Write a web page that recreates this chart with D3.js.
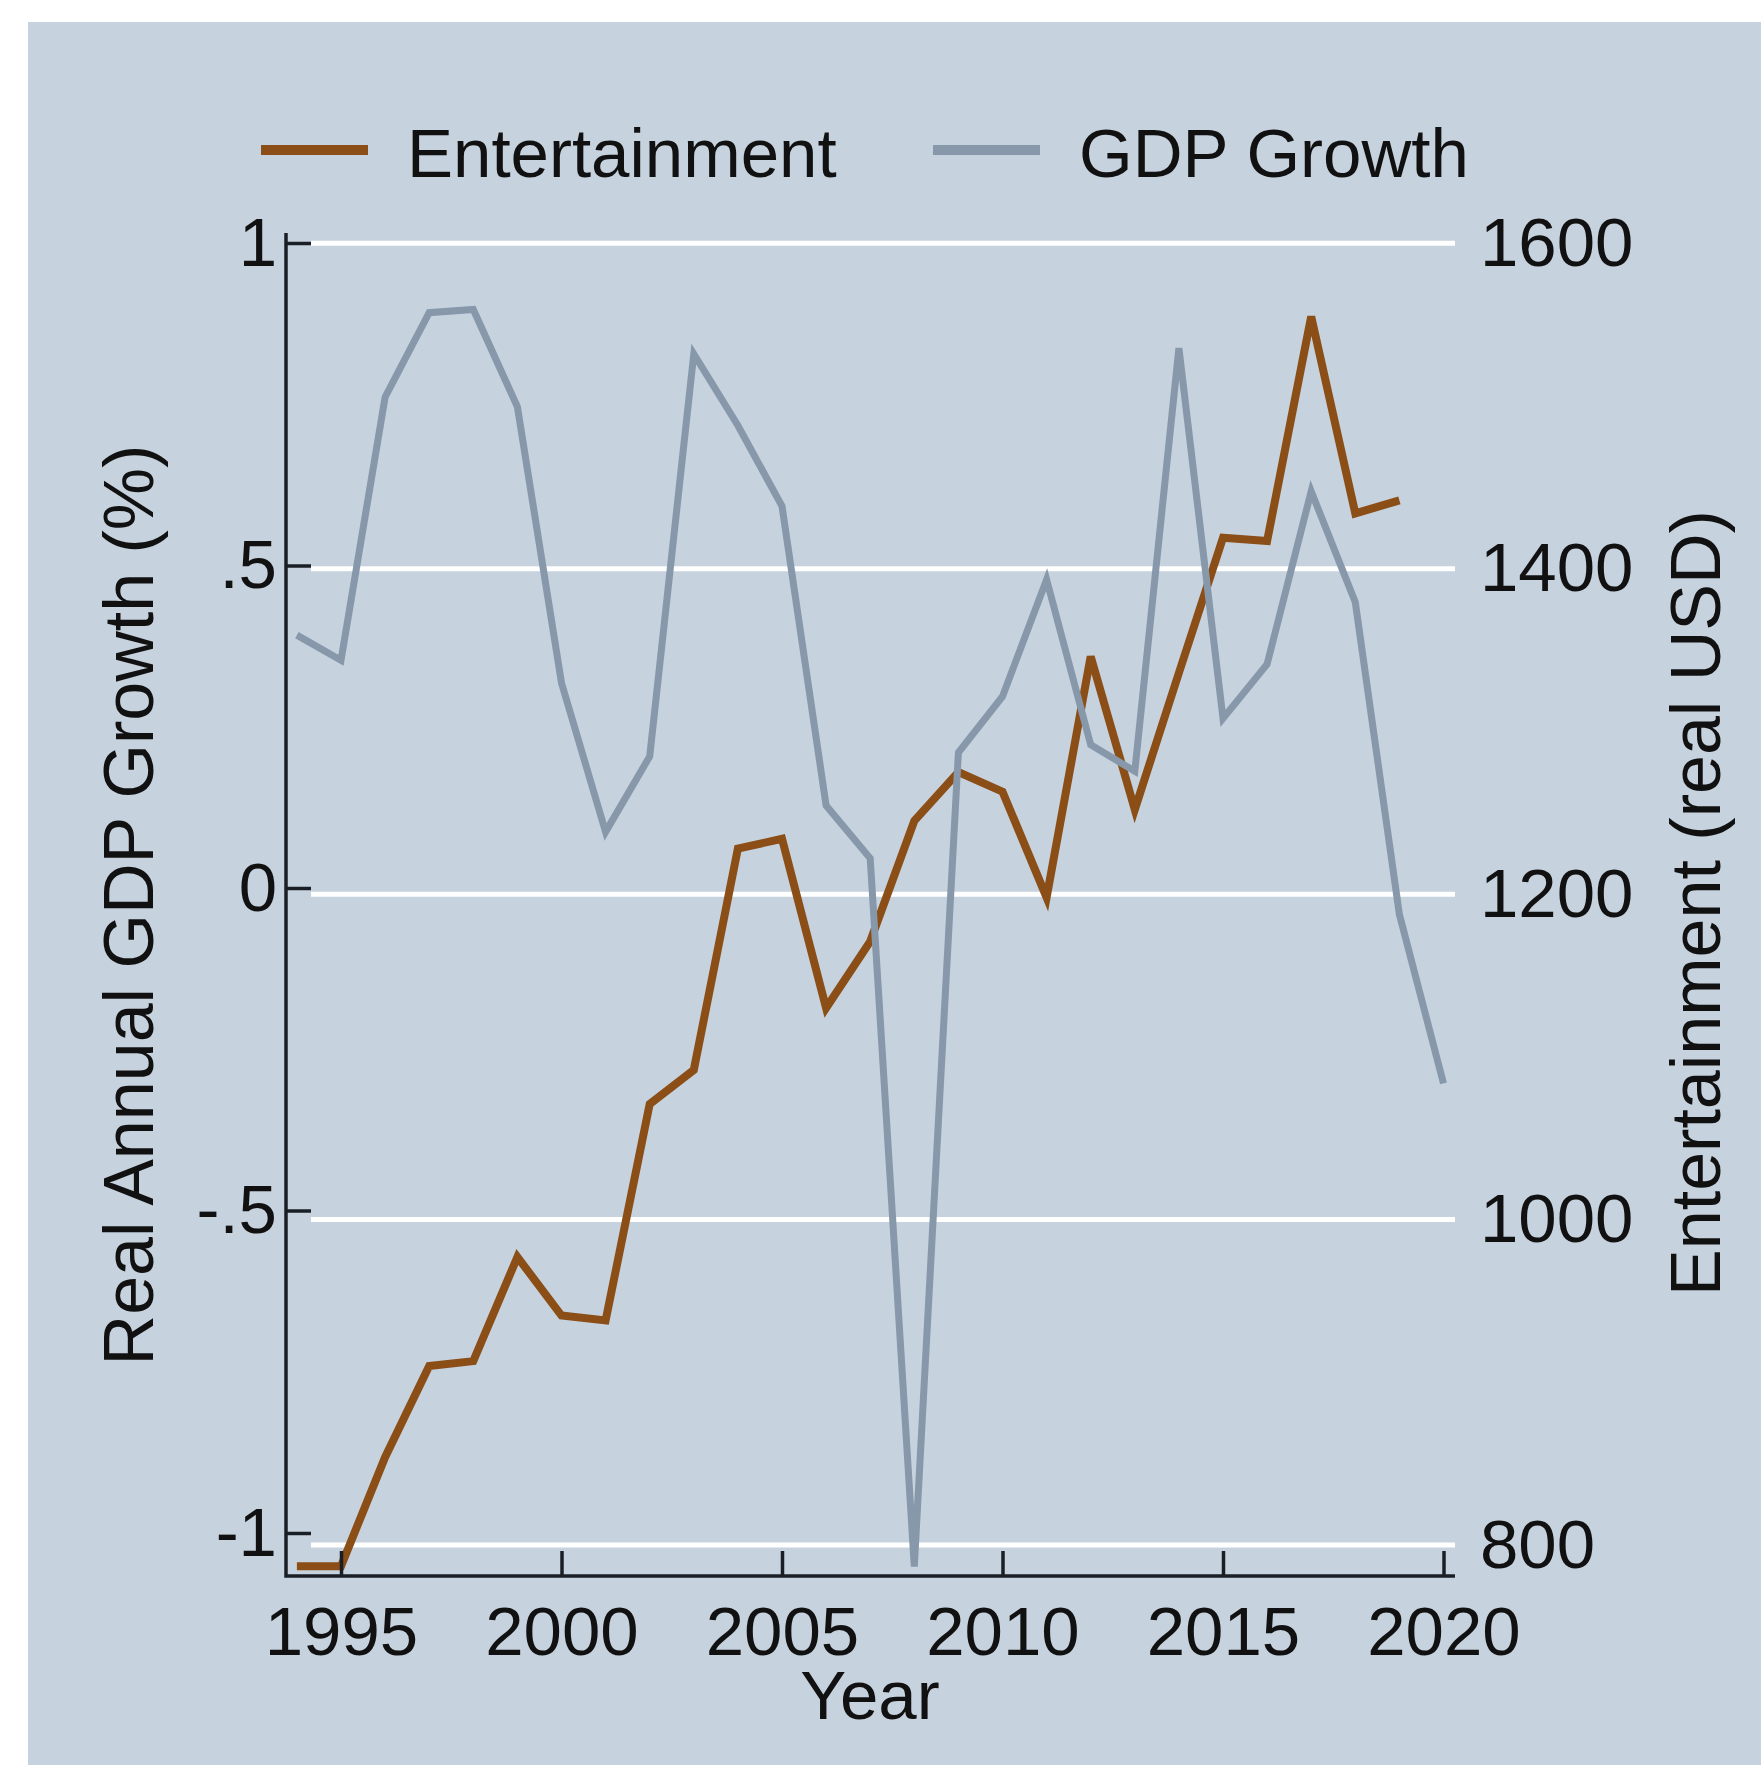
<!DOCTYPE html>
<meta charset="utf-8">

<style>

* {
	margin: 0;
	padding: 0;
}

body {
	background: #fff;
}

svg text {
	font-family: "Liberation Sans", Arial, sans-serif;
	font-size: 69px;
	fill: #111;
}

.grid line {
	stroke: #fff;
	stroke-width: 5;
}

.tick line {
	stroke: #1a1f26;
	stroke-width: 3.5;
}

.title {
	font-size: 70px;
}

</style>

<body>

<script src="https://cdn.jsdelivr.net/npm/d3@7"></script>

<script>

// data
var years = [1994, 1995, 1996, 1997, 1998, 1999, 2000, 2001, 2002, 2003, 2004, 2005, 2006,
	2007, 2008, 2009, 2010, 2011, 2012, 2013, 2014, 2015, 2016, 2017, 2018, 2019, 2020];

var gdpGrowth = [0.392, 0.353, 0.761, 0.892, 0.897, 0.746, 0.318, 0.087, 0.204, 0.828,
	0.717, 0.592, 0.128, 0.046, -1.052, 0.210, 0.297, 0.478, 0.222, 0.181, 0.837,
	0.263, 0.347, 0.615, 0.443, -0.041, -0.303];

var entertainment = [787, 787, 854, 910, 913, 977, 941, 938, 1071, 1092, 1228, 1234, 1130,
	1171, 1245, 1275, 1263, 1198, 1346, 1252, 1336, 1419, 1417, 1555, 1434, 1442, null];

var xTicks = [1995, 2000, 2005, 2010, 2015, 2020];
var leftTicks = [-1, -0.5, 0, 0.5, 1];
var leftLabels = ["-1", "-.5", "0", ".5", "1"];
var rightTicks = [800, 1000, 1200, 1400, 1600];

var legendItems = ["Entertainment", "GDP Growth"];
var colors = { ent: "#8a4e16", gdp: "#8798ab" };

var width = 1761,
    height = 1765,
    plotLeft = 286,
    plotRight = 1455,
    plotTop = 233,
    plotBottom = 1576;

var svg = d3.select("body").append("svg")
    .attr("width", width)
    .attr("height", height);

// graph region
svg.append("rect")
    .attr("x", 28)
    .attr("y", 22)
    .attr("width", width - 28)
    .attr("height", height - 22)
    .attr("fill", "#c6d2de");

var x = d3.scaleLinear().domain([1995, 2020]).range([341, 1443.5]);
var yLeft = d3.scaleLinear().domain([-1, 1]).range([1533, 243]);
var yRight = d3.scaleLinear().domain([800, 1600]).range([1545, 243.3]);

// gridlines follow the right axis
svg.append("g")
    .attr("class", "grid")
    .selectAll("line")
    .data(rightTicks)
    .enter().append("line")
    .attr("x1", 311)
    .attr("x2", plotRight)
    .attr("y1", function(d) { return yRight(d); })
    .attr("y2", function(d) { return yRight(d); });

// series
var data = years.map(function(yr, i) {
	return { year: yr, gdp: gdpGrowth[i], ent: entertainment[i] };
});

var gdpLine = d3.line()
    .x(function(d) { return x(d.year); })
    .y(function(d) { return yLeft(d.gdp); });

var entLine = d3.line()
    .defined(function(d) { return d.ent != null; })
    .x(function(d) { return x(d.year); })
    .y(function(d) { return yRight(d.ent); });

svg.append("path")
    .datum(data)
    .attr("d", entLine)
    .attr("fill", "none")
    .attr("stroke", colors.ent)
    .attr("stroke-width", 8)
    .attr("stroke-linejoin", "miter");

svg.append("path")
    .datum(data)
    .attr("d", gdpLine)
    .attr("fill", "none")
    .attr("stroke", colors.gdp)
    .attr("stroke-width", 7)
    .attr("stroke-linejoin", "miter");

// left axis, ticks point inward
var leftAxis = svg.append("g")
    .attr("transform", "translate(" + plotLeft + ",0)")
    .call(d3.axisLeft(yLeft)
        .tickValues(leftTicks)
        .tickFormat(function(d, i) { return leftLabels[i]; })
        .tickSizeInner(-25)
        .tickSizeOuter(0)
        .tickPadding(9));
leftAxis.select(".domain").remove();
leftAxis.selectAll("text").attr("font-size", null).attr("font-family", null);

// bottom axis
var bottomAxis = svg.append("g")
    .attr("transform", "translate(0," + plotBottom + ")")
    .call(d3.axisBottom(x)
        .tickValues(xTicks)
        .tickFormat(d3.format("d"))
        .tickSizeInner(-25)
        .tickSizeOuter(0)
        .tickPadding(30));
bottomAxis.select(".domain").remove();
bottomAxis.selectAll("text").attr("font-size", null).attr("font-family", null);

// right axis: labels only
var rightAxis = svg.append("g")
    .attr("transform", "translate(" + plotRight + ",0)")
    .call(d3.axisRight(yRight)
        .tickValues(rightTicks)
        .tickFormat(d3.format("d"))
        .tickSize(0)
        .tickPadding(25));
rightAxis.select(".domain").remove();
rightAxis.selectAll("text").attr("font-size", null).attr("font-family", null);

// axis lines
svg.append("path")
    .attr("d", "M" + plotLeft + "," + plotTop + "V" + plotBottom + "H" + plotRight)
    .attr("fill", "none")
    .attr("stroke", "#1a1f26")
    .attr("stroke-width", 3.5);

// titles
svg.append("text")
    .attr("class", "title")
    .attr("transform", "translate(153,905) rotate(-90)")
    .attr("text-anchor", "middle")
    .text("Real Annual GDP Growth (%)");

svg.append("text")
    .attr("class", "title")
    .attr("transform", "translate(1720,903) rotate(-90)")
    .attr("text-anchor", "middle")
    .text("Entertainment (real USD)");

svg.append("text")
    .attr("x", 870)
    .attr("y", 1719)
    .attr("text-anchor", "middle")
    .text("Year");

// legend
var legendX = [261, 933];
var legend = svg.append("g").selectAll("g")
    .data(legendItems)
    .enter().append("g")
    .attr("transform", function(d, i) { return "translate(" + legendX[i] + ",0)"; });

legend.append("line")
    .attr("x1", 0)
    .attr("x2", 107)
    .attr("y1", 150)
    .attr("y2", 150)
    .attr("stroke", function(d, i) { return i == 0 ? colors.ent : colors.gdp; })
    .attr("stroke-width", 10);

legend.append("text")
    .attr("x", 146)
    .attr("y", 177)
    .text(function(d) { return d; });

</script>
